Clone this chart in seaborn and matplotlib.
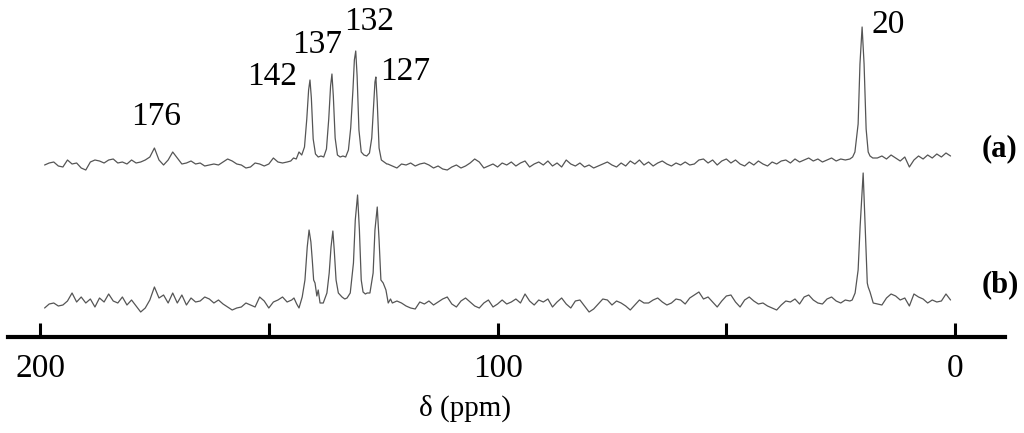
import numpy as np
import pandas as pd
import matplotlib
matplotlib.use("Agg")
import matplotlib.pyplot as plt
import seaborn as sns

# 13C NMR traces (intensity in arbitrary units above each baseline)
grid_ppm = np.arange(199, 0, -1)

noise_a = [-1, 1, 2, -2, -3, 4, 0, 1, -4, -6,
           2, 4, 3, 1, 4, 5, 1, 2, 0, 4,
           1, 2, 4, 7, 16, 4, -1, 4, 12, 6,
           0, 1, 3, 0, 1, -2, -1, 0, -1, 2,
           5, 3, 0, -1, -4, -3, 1, 0, -2, 0,
           6, 2, 1, 3, 3, 5, 10, 25, 84, 15,
           7, 7, 35, 80, 9, 7, 8, 40, 113, 20,
           9, 11, 70, 40, 3, 0, -2, -4, 0, -1,
           1, -2, 0, 1, -1, -4, -2, -5, -6, -3,
           -1, -4, -2, 1, 5, 2, -4, -2, 0, -3,
           1, -1, 2, -2, 1, 3, -3, 0, 2, -1,
           3, -2, 1, -3, 4, 0, -2, 1, -3, -1,
           -4, -2, 0, 2, -1, -3, 1, -2, 3, 0,
           4, -1, 2, -2, 1, 3, 0, -2, 1, -1,
           2, -1, 0, 4, 5, 1, 4, -1, 3, 5,
           1, 4, 0, -2, 2, -1, 3, 0, -2, 2,
           0, 3, 4, 1, 5, 2, 4, 6, 3, 5,
           2, 4, 6, 3, 5, 4, 5, 9, 70, 120,
           12, 6, 6, 8, 5, 9, 6, 3, 7, -3,
           4, 8, 5, 9, 6, 10, 7, 11, 8]

aro_ppm_a = [146, 145.2, 144.6, 144.0, 143.4, 142.8, 142.2, 141.7, 141.3, 141.0,
             140.7, 140.3, 139.8, 139.2, 138.6, 138.0, 137.4, 136.9, 136.5, 136.2,
             135.9, 135.5, 135.0, 134.4, 133.8, 133.2, 132.6, 132.1, 131.6, 131.3,
             131.0, 130.7, 130.3, 129.8, 129.2, 128.6, 128.0, 127.5, 127.1, 126.8,
             126.6, 126.3, 125.9, 125.4, 124.8, 124.2]
aro_a = [2, 3, 6, 5, 12, 9, 17, 45, 74, 84,
         66, 25, 10, 7, 8, 7, 15, 45, 78, 90,
         68, 26, 9, 7, 8, 7, 14, 36, 75, 104,
         113, 88, 34, 12, 9, 8, 11, 26, 58, 82,
         87, 62, 16, 4, 2, 0]

me_ppm_a = [23.0, 22.4, 21.9, 21.2, 20.8, 20.33, 19.9, 19.45, 19.0, 18.6, 18.0]
me_a = [5, 7, 12, 40, 100, 137, 100, 35, 12, 8, 6]

noise_b = [-6, -2, -1, -4, -3, 1, 9, 0, 5, -1,
           3, -5, 4, 0, 8, 1, -1, 5, -3, 2,
           -4, -10, -6, 2, 15, 4, 7, -1, 9, -1,
           7, -3, 4, 0, 1, 5, 3, -1, 2, -2,
           -5, -8, -6, -5, -1, -3, -5, 5, 1, -6,
           0, 2, 5, 0, 2, 4, -6, 22, 72, 45,
           12, -1, 5, 71, 9, 5, 4, 9, 82, 72,
           10, 9, 20, 60, 19, 12, -1, 1, -1, -4,
           -6, -7, 0, -2, 1, -3, 0, 3, 5, -2,
           -5, 1, 4, 0, -4, -6, -1, 2, -5, -2,
           2, -2, 0, 3, -1, 8, 1, -3, 2, 0,
           3, -5, 0, 4, -2, -6, 1, 2, -4, -10,
           -7, -2, 3, 2, -3, 1, -1, -4, -8, -3,
           2, -1, -1, 2, 4, 0, -3, -1, 3, 2,
           -2, 4, 7, 10, 3, 5, 0, -5, 1, 6,
           7, 0, -5, 2, 5, 1, -2, -1, -4, -6,
           -8, -3, 1, 0, 3, -2, 5, 7, 2, -1,
           -2, 3, 5, 1, -1, 2, 1, 5, 70, 110,
           17, 5, -2, -3, 4, 8, 6, 2, 4, -4,
           8, 5, 3, -1, 2, 0, 1, 8, 2]

aro_ppm_b = [145.0, 144.5, 143.9, 143.4, 142.7, 142.1, 141.6, 141.2, 140.8, 140.5,
             140.2, 139.9, 139.5, 139.2, 138.8, 138.1, 137.3, 136.8, 136.4, 136.0,
             135.7, 135.3, 134.8, 134.0, 133.4, 132.9, 132.2, 131.5, 131.1, 130.6,
             130.2, 129.8, 129.4, 128.9, 128.5, 127.9, 127.2, 126.8, 126.3, 125.9,
             125.5, 125.0, 124.4, 123.9, 123.4]
aro_b = [2, 4, -2, -6, 5, 22, 55, 72, 60, 42,
         22, 19, 6, 12, -1, -1, 9, 29, 55, 71,
         52, 22, 9, 5, 3, 4, 9, 39, 82, 107,
         72, 22, 10, 8, 9, 9, 29, 72, 95, 62,
         22, 19, 12, -1, 3]

me_ppm_b = [23.0, 22.5, 21.86, 21.2, 20.77, 20.1, 19.67, 19.2, 19.0, 18.6, 17.9]
me_b = [1, 2, 9, 32, 75, 129, 75, 19, 15, 10, -1]

peak_ppm = [176, 142, 137, 132, 127, 20]
peak_labels = ["176", "142", "137", "132", "127", "20"]
trace_labels = ["(a)", "(b)"]
tick_ppm = [200, 150, 100, 50, 0]
tick_text = ["200", "", "100", "", "0"]


def build_trace(noise, windows):
    ppm = grid_ppm.astype(float)
    val = np.asarray(noise, float)
    keep = np.ones(len(ppm), bool)
    for wp, _ in windows:
        keep &= ~((ppm >= min(wp)) & (ppm <= max(wp)))
    ppm_all = np.concatenate([ppm[keep]] + [np.asarray(wp, float) for wp, _ in windows])
    val_all = np.concatenate([val[keep]] + [np.asarray(wv, float) for _, wv in windows])
    order = np.argsort(ppm_all)
    return pd.DataFrame({"ppm": ppm_all[order], "intensity": val_all[order]})


trace_a = build_trace(noise_a, [(aro_ppm_a, aro_a), (me_ppm_a, me_a)])
trace_b = build_trace(noise_b, [(aro_ppm_b, aro_b), (me_ppm_b, me_b)])

sns.set_theme(style="white")
plt.rcParams["font.family"] = ["Liberation Serif", "DejaVu Serif"]
plt.rcParams["text.color"] = "black"

fig = plt.figure(figsize=(10.24, 4.33), dpi=100)
ax = fig.add_axes([8 / 1024, 96 / 433, 997 / 1024, 337 / 433])

# vertical stacking of the two traces
offsets = {"(a)": 173, "(b)": 35}
for name, df in zip(trace_labels, [trace_a, trace_b]):
    df = df.assign(y=df["intensity"] + offsets[name])
    sns.lineplot(data=df, x="ppm", y="y", ax=ax, color="#555555",
                 linewidth=0.9, estimator=None)

ax.set_xlim(207.0, -10.9)
ax.set_ylim(0, 337)
ax.set_yticks([])
ax.set_xticks(tick_ppm)
ax.set_xticklabels(tick_text)
ax.set_xlabel("")
ax.set_ylabel("")
for side in ["left", "right", "top"]:
    ax.spines[side].set_visible(False)
ax.spines["bottom"].set_linewidth(3.0)
ax.spines["bottom"].set_color("black")
ax.tick_params(axis="x", direction="in", length=10, width=2.2, pad=12,
               labelsize=24, colors="black", bottom=True)

# peak assignments
label_pos = [(174.6, 212), (149.3, 252), (139.5, 284), (128.1, 307), (120.2, 257), (14.6, 304)]
for text, (x, y) in zip(peak_labels, label_pos):
    ax.text(x, y, text, fontsize=24, ha="center", va="baseline", color="black")

for text, y in zip(trace_labels, [188, 52]):
    ax.text(-9.8, y, text, fontsize=22, fontweight="bold", ha="center", va="center",
            color="black")

fig.text(465 / 1024, 1 - 408 / 433, "δ (ppm)", fontsize=21, ha="center", va="center",
         color="black")

fig.savefig("out.png", dpi=100)
